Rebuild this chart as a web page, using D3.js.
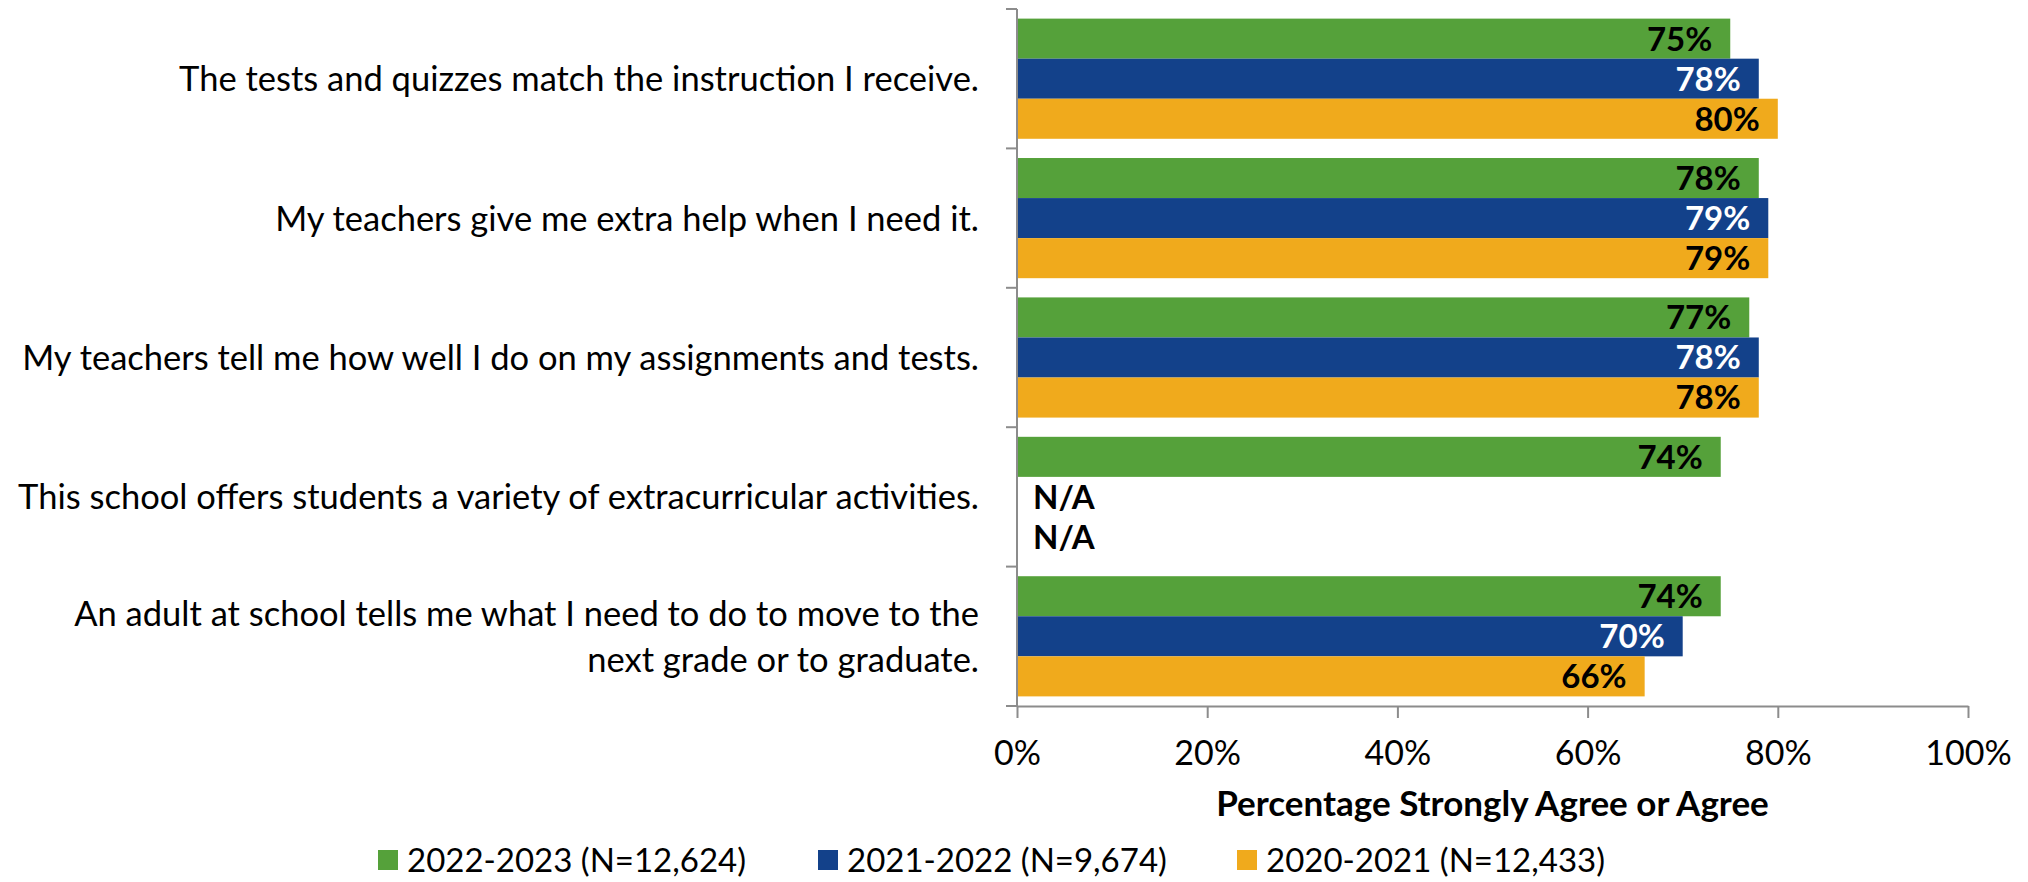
<!doctype html>
<html>
  <head>
    <meta charset="utf-8">
    <title>Percentage Strongly Agree or Agree</title>
    <script src="https://cdnjs.cloudflare.com/ajax/libs/d3/7.8.5/d3.min.js"></script>
    <style>
      body { margin: 0; background: #fff; }
      svg { font-family: Lato, "Noto Sans", sans-serif; }
    </style>
  </head>
  <body>
    <div id="chart"></div>
    <script>
      // data
      const categories = [
        "The tests and quizzes match the instruction I receive.",
        "My teachers give me extra help when I need it.",
        "My teachers tell me how well I do on my assignments and tests.",
        "This school offers students a variety of extracurricular activities.",
        "An adult at school tells me what I need to do to move to the\nnext grade or to graduate."
      ];
      const seriesNames = ["2022-2023 (N=12,624)", "2021-2022 (N=9,674)", "2020-2021 (N=12,433)"];
      const values2023 = [75, 78, 77, 74, 74];
      const values2022 = [78, 79, 78, null, 70];
      const values2021 = [80, 79, 78, null, 66];
      const xTicks = [0, 20, 40, 60, 80, 100];

      const colors = ["#55a13a", "#13418a", "#f0aa1c"];
      const labelColors = ["#000", "#fff", "#000"];
      const allValues = [values2023, values2022, values2021];

      const W = 2028, H = 882;
      const plot = { left: 1017, right: 1968, top: 9, bottom: 706 };

      const svg = d3.select('#chart').append('svg')
        .attr('width', W).attr('height', H);

      const x = d3.scaleLinear().domain([0, 100]).range([plot.left, plot.right]);
      const y = d3.scaleBand().domain(categories).range([plot.top, plot.bottom]).padding(0);
      const y1 = d3.scaleBand().domain(seriesNames).range([0, y.bandwidth()])
        .paddingInner(0).paddingOuter(0.24);

      const rows = categories.map((c, i) => ({
        cat: c,
        vals: seriesNames.map((s, j) => ({ s, j, v: allValues[j][i] }))
      }));

      const g = svg.selectAll('g.cat').data(rows).join('g')
        .attr('class', 'cat')
        .attr('transform', d => `translate(0,${y(d.cat)})`);

      // bars
      g.selectAll('rect').data(d => d.vals.filter(e => e.v != null)).join('rect')
        .attr('x', x(0))
        .attr('y', d => y1(d.s))
        .attr('width', d => x(d.v) - x(0))
        .attr('height', y1.bandwidth())
        .attr('fill', d => colors[d.j]);

      // value labels
      g.selectAll('text.val').data(d => d.vals).join('text')
        .attr('class', 'val')
        .attr('x', d => d.v == null ? x(0) + 16 : x(d.v) - 18)
        .attr('y', d => y1(d.s) + y1.bandwidth() / 2)
        .attr('dy', '0.36em')
        .attr('text-anchor', d => d.v == null ? 'start' : 'end')
        .style('font-size', '33px')
        .style('font-weight', 'bold')
        .style('fill', d => d.v == null ? '#000' : labelColors[d.j])
        .text(d => d.v == null ? 'N/A' : d.v + '%');

      // category labels
      const lineH = 46;
      g.append('text')
        .attr('text-anchor', 'end')
        .style('font-size', '34.5px')
        .style('fill', '#000')
        .each(function(d) {
          const lines = d.cat.split('\n');
          const t = d3.select(this);
          lines.forEach((ln, k) => {
            t.append('tspan')
              .attr('x', 979)
              .attr('y', y.bandwidth() / 2 + (k - (lines.length - 1) / 2) * lineH)
              .attr('dy', '0.36em')
              .text(ln);
          });
        });

      // left axis with ticks at category boundaries
      const axisColor = '#8c8c8c';
      svg.append('line')
        .attr('x1', plot.left).attr('x2', plot.left)
        .attr('y1', plot.top).attr('y2', plot.bottom)
        .attr('stroke', axisColor).attr('stroke-width', 2);
      const bounds = categories.map(c => y(c)).concat([y.range()[1]]);
      svg.selectAll('line.ytick').data(bounds).join('line')
        .attr('class', 'ytick')
        .attr('x1', plot.left - 11).attr('x2', plot.left)
        .attr('y1', d => d).attr('y2', d => d)
        .attr('stroke', axisColor).attr('stroke-width', 2);

      // bottom axis
      const xAxis = svg.append('g')
        .attr('transform', `translate(0,${plot.bottom})`)
        .call(d3.axisBottom(x).tickValues(xTicks).tickFormat(d => d + '%')
          .tickSize(12).tickSizeOuter(0).tickPadding(23));
      xAxis.select('.domain').attr('stroke', axisColor).attr('stroke-width', 2);
      xAxis.selectAll('.tick line').attr('stroke', axisColor).attr('stroke-width', 2);
      xAxis.selectAll('.tick text')
        .style('font-family', 'Lato, sans-serif')
        .style('font-size', '34px')
        .style('fill', '#000');

      // axis title
      svg.append('text')
        .attr('x', (plot.left + plot.right) / 2)
        .attr('y', 816)
        .attr('text-anchor', 'middle')
        .style('font-size', '35px')
        .style('font-weight', 'bold')
        .text('Percentage Strongly Agree or Agree');

      // legend
      const legendX = [378, 818, 1237];
      const leg = svg.selectAll('g.leg').data(seriesNames).join('g')
        .attr('class', 'leg')
        .attr('transform', (d, i) => `translate(${legendX[i]},860)`);
      leg.append('rect')
        .attr('x', 0).attr('y', -10)
        .attr('width', 20).attr('height', 20)
        .attr('fill', (d, i) => colors[i]);
      leg.append('text')
        .attr('x', 29).attr('y', 0).attr('dy', '0.36em')
        .style('font-size', '33px')
        .text(d => d);
    </script>
  </body>
</html>
